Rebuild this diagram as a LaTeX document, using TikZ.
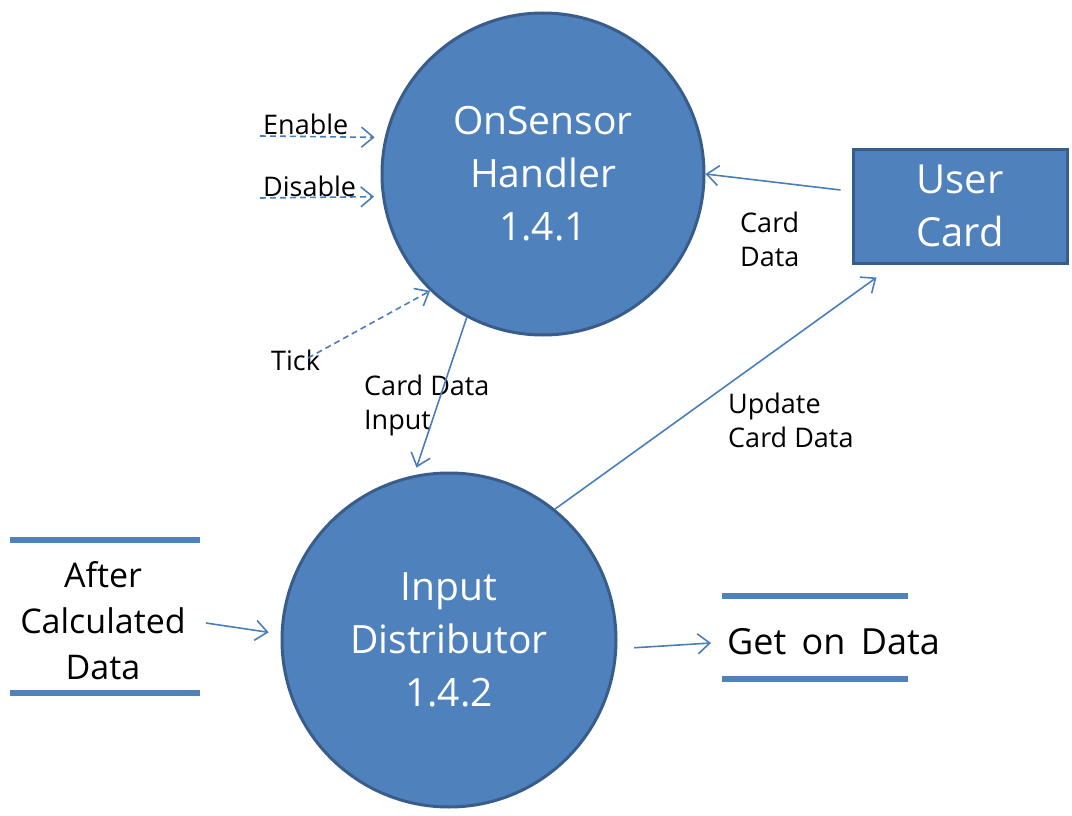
\documentclass[tikz,border=0pt]{standalone}
\usepackage{fontspec}
\setmainfont{Open Sans}
\usetikzlibrary{arrows.meta}
\definecolor{dfdblue}{HTML}{4F81BD}
\definecolor{dfdedge}{HTML}{385D8A}
\definecolor{dfdline}{HTML}{4A7EBB}

\begin{document}
\begin{tikzpicture}[x=1pt,y=-1pt,
  process/.style={circle, fill=dfdblue, draw=dfdedge, line width=3pt, minimum size=#1, inner sep=0pt, align=center, text=white, font=\fontsize{39}{53}\selectfont},
  entity/.style={rectangle, fill=dfdblue, draw=dfdedge, line width=3pt, minimum width=214pt, minimum height=114pt, align=center, text=white, font=\fontsize{40}{53}\selectfont},
  flow/.style={draw=dfdline, line width=1.6pt, -{Straight Barb[length=12pt,width=20pt,line width=1.6pt]}},
  ctrl/.style={flow, dash pattern=on 6pt off 4pt},
  lbl/.style={anchor=west, inner sep=0pt, align=left, font=\fontsize{27}{34}\selectfont},
  storetext/.style={inner sep=0pt, align=center, font=\fontsize{34}{46}\selectfont},
  store/.style={draw=dfdblue, line width=6pt}]
\useasboundingbox (0,0) rectangle (1072,816);

\node[process=322pt] (handler) at (543,174) {OnSensor\\Handler\\1.4.1};
\node[process=334pt] (input) at (449,640) {Input\\Distributor\\1.4.2};
\node[entity] (card) at (960,206) {User\\Card};

\node[storetext] (after) at (103,621) {After\\Calculated\\Data};
\draw[store] (10,540) -- (200,540);
\draw[store] (10,693) -- (200,693);
\node[storetext, anchor=west, font=\fontsize{36}{46}\selectfont] (geton) at (727,642) {Get\ \,on\ \,Data};
\draw[store] (722,596) -- (908,596);
\draw[store] (722,679) -- (908,679);

\coordinate (enable0) at (260,136);
\coordinate (disable0) at (260,198);
\coordinate (tick0) at (308,358);

\node[lbl] (enable) at (263,124) {Enable};
\node[lbl] (disable) at (263,186) {Disable};
\node[lbl] (tick) at (271,360) {Tick};
\node[lbl] (cdinput) at (364,405) {Card Data\\Input};
\node[lbl] (carddata) at (740,239) {Card\\Data};
\node[lbl] (update) at (728,420) {Update\\Card Data};

\draw[ctrl, shorten >=10pt] (enable0) -- (handler.167);
\draw[ctrl, shorten >=8pt] (disable0) -- (handler.188);
\draw[ctrl] (tick0) -- (handler.226);
\draw[flow] ([shift={(-11,-16)}]card.west) -- (handler.east);
\draw[flow, shorten >=8pt] (handler.242) -- (input.102);
\draw[flow] (input.51) -- ([shift={(25,13)}]card.south west);
\draw[flow, shorten >=12pt] ([shift={(20,2)}]after.east) -- (input.178);
\draw[flow, shorten <=17pt, shorten >=16pt] (input.-3) -- (geton.west);
\end{tikzpicture}
\end{document}
